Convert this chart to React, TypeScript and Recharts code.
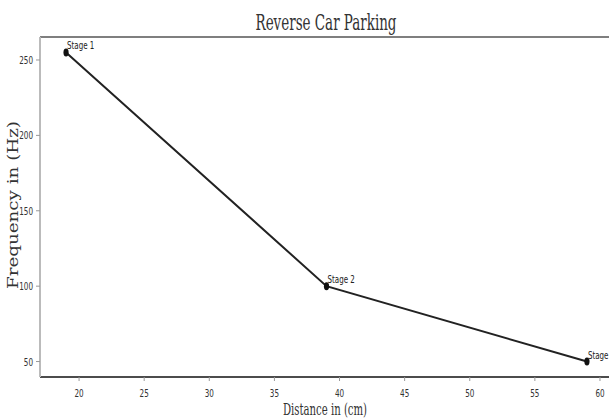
import { LineChart, Line, XAxis, YAxis, ReferenceLine, LabelList } from 'recharts';

// distance (cm) vs buzzer frequency (Hz)
const distances = [19, 39, 59];
const frequencies = [255, 100, 50];
const stageLabels = ['Stage 1', 'Stage 2', 'Stage 3'];
const xTicks = [20, 25, 30, 35, 40, 45, 50, 55, 60];
const yTicks = [50, 100, 150, 200, 250];

const data = distances.map((d, i) => ({
  distance: d,
  freq: frequencies[i],
  stage: stageLabels[i],
}));

const tickFont = "'DejaVu Sans Condensed', 'DejaVu Sans', sans-serif";
const serifFont = "'DejaVu Serif Condensed', 'DejaVu Serif', serif";

const XTick = (props: any) => {
  const { x, y, payload } = props;
  return (
    <g>
      <line x1={x} x2={x} y1={y - 8} y2={y - 4} stroke="#999" strokeWidth={1} />
      <text x={x} y={y + 12} textAnchor="middle" fontSize={10.5} fontFamily={tickFont} fill="#333"
        textLength={String(payload.value).length * 4.6} lengthAdjust="spacingAndGlyphs">
        {payload.value}
      </text>
    </g>
  );
};

const YTick = (props: any) => {
  const { x, y, payload } = props;
  return (
    <g>
      <line x1={x + 4} x2={x + 8} y1={y} y2={y} stroke="#999" strokeWidth={1} />
      <text x={x + 1} y={y + 4} textAnchor="end" fontSize={11} fontFamily={tickFont} fill="#333"
        textLength={String(payload.value).length * 4.6} lengthAdjust="spacingAndGlyphs">
        {payload.value}
      </text>
    </g>
  );
};

const Marker = (props: any) => {
  const { cx, cy } = props;
  return <ellipse cx={cx} cy={cy} rx={2.6} ry={4} fill="#111" />;
};

const StageLabel = (props: any) => {
  const { x, y, value } = props;
  return (
    <text x={x + 1} y={y - 3} fontSize={10.5} fontFamily={tickFont} fill="#222"
      textLength={String(value).length * 3.9} lengthAdjust="spacingAndGlyphs">
      {value}
    </text>
  );
};

export default function App() {
  return (
    <div style={{ position: 'fixed', left: 0, top: 0, width: 609, height: 418, overflow: 'hidden', background: '#fff' }}>
      <LineChart width={640} height={418} data={data} margin={{ top: 37, right: 27, bottom: 11, left: 10 }}>
        <text x={326} y={30} textAnchor="middle" fontSize={23} fontFamily={serifFont} fill="#333"
          textLength={141} lengthAdjust="spacingAndGlyphs">
          Reverse Car Parking
        </text>
        <text x={325} y={415} textAnchor="middle" fontSize={16} fontFamily={serifFont} fill="#333"
          textLength={84} lengthAdjust="spacingAndGlyphs">
          Distance in (cm)
        </text>
        <text x={0} y={0} transform="translate(18,205) rotate(-90)" textAnchor="middle" fontSize={14}
          fontFamily={serifFont} fill="#333" textLength={168} lengthAdjust="spacingAndGlyphs">
          Frequency in (Hz)
        </text>
        <XAxis dataKey="distance" type="number" domain={[17, 61]} ticks={xTicks} height={30}
          axisLine={{ stroke: '#111', strokeWidth: 1.5 }} tickLine={false} tick={<XTick />} interval={0} />
        <YAxis type="number" domain={[39.75, 265.25]} ticks={yTicks} width={30}
          axisLine={{ stroke: '#bbb', strokeWidth: 2 }} tickLine={false} tick={<YTick />} interval={0} />
        <ReferenceLine y={265.25} stroke="#555" strokeWidth={1.5} />
        <Line dataKey="freq" stroke="#222" strokeWidth={2} dot={<Marker />} isAnimationActive={false}>
          <LabelList dataKey="stage" content={<StageLabel />} />
        </Line>
      </LineChart>
    </div>
  );
}
